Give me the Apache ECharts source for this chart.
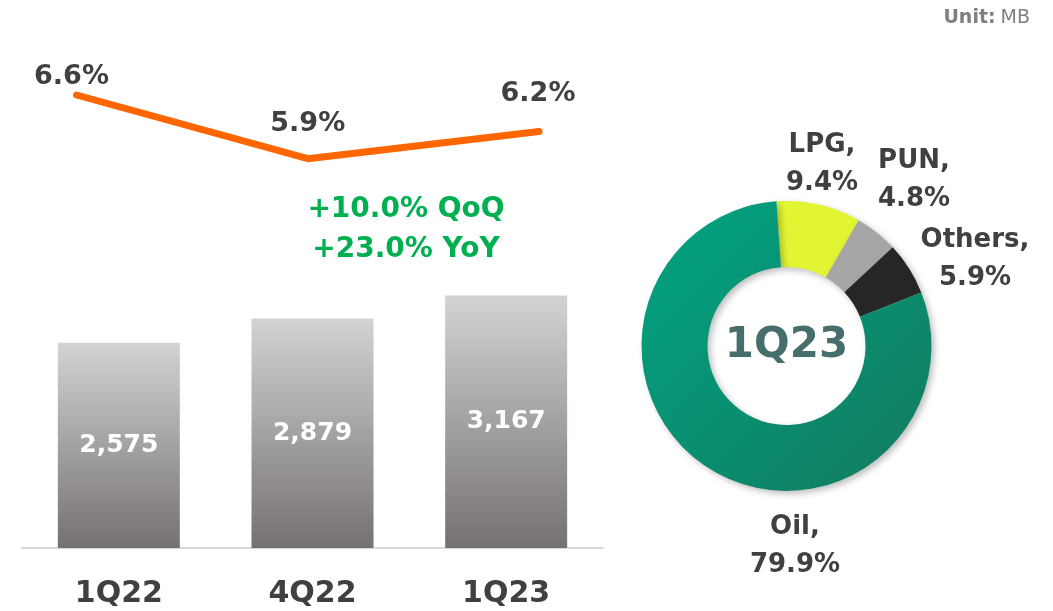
<!DOCTYPE html>
<html>
<head>
<meta charset="utf-8">
<script src="https://cdn.jsdelivr.net/npm/echarts@6/dist/echarts.min.js"></script>
<style>
  html, body { margin: 0; padding: 0; background: #fff; }
  #chart { width: 1053px; height: 611px; }
</style>
</head>
<body>
<div id="chart"></div>
<script>
// 季度
var quarters = ['1Q22', '4Q22', '1Q23'];
// 柱子数值 (MB)
var volumes = [2575, 2879, 3167];
// 折线 %
var shares = [6.6, 5.9, 6.2];
// 环形图
var mixNames = ['LPG', 'PUN', 'Others', 'Oil'];
var mixValues = [9.4, 4.8, 5.9, 79.9];
var growthText = ['+10.0% QoQ', '+23.0% YoY'];

var FONT = '"DejaVu Sans", sans-serif';
var DARK = '#404040';

// 折线标签偏移
var lineLabelOffsets = [[-5, -4], [0, -21], [-1, -23]];
// 环形图标签位置
var pieLabelPos = [[822, 164], [914, 180], [975, 259], [795, 546]];
var pieColors = [
  '#e1f532',
  '#a6a6a6',
  '#262626',
  new echarts.graphic.LinearGradient(0, 0, 1, 1, [
    { offset: 0, color: '#00a483' },
    { offset: 1, color: '#137a5e' },
  ]),
];

var chart = echarts.init(document.getElementById('chart'));

var option = {
  backgroundColor: '#fff',
  animation: false,
  title: {
    right: 18,
    top: 4,
    text: '{b|Unit:} {n|MB}',
    textStyle: {
      fontWeight: 'normal',
      rich: {
        b: { fontFamily: FONT, fontWeight: 'bold', fontSize: 19, color: '#7f7f7f' },
        n: { fontFamily: FONT, fontWeight: 'normal', fontSize: 19, color: '#7f7f7f' },
      },
    },
  },
  grid: [
    { left: 22, right: 450, top: 229, height: 319 },
    { left: 76.5, right: 514, top: 58.6, height: 182 },
  ],
  xAxis: [
    {
      type: 'category',
      gridIndex: 0,
      data: quarters,
      axisTick: { show: false },
      axisLine: { lineStyle: { color: '#d9d9d9', width: 2 } },
      axisLabel: {
        margin: 31,
        fontFamily: FONT,
        fontWeight: 'bold',
        fontSize: 30,
        color: DARK,
      },
    },
    {
      type: 'category',
      gridIndex: 1,
      data: quarters,
      boundaryGap: false,
      show: false,
    },
  ],
  yAxis: [
    { type: 'value', gridIndex: 0, min: 0, max: 4000, interval: 1000, show: false },
    { type: 'value', gridIndex: 1, min: 5, max: 7, interval: 1, show: false },
  ],
  series: [
    {
      type: 'bar',
      xAxisIndex: 0,
      yAxisIndex: 0,
      barWidth: 122,
      data: volumes,
      itemStyle: {
        color: new echarts.graphic.LinearGradient(0, 0, 0, 1, [
          { offset: 0, color: '#d3d3d3' },
          { offset: 1, color: '#757170' },
        ]),
      },
      label: {
        show: true,
        position: 'inside',
        color: '#fff',
        fontFamily: FONT,
        fontWeight: 'bold',
        fontSize: 25,
        formatter: function (p) {
          return p.value.toLocaleString('en-US');
        },
      },
    },
    {
      type: 'line',
      xAxisIndex: 1,
      yAxisIndex: 1,
      symbol: 'circle',
      symbolSize: 1,
      data: shares.map(function (v, i) {
        return { value: v, label: { offset: lineLabelOffsets[i] } };
      }),
      lineStyle: { color: '#ff6600', width: 7, cap: 'round', join: 'round' },
      itemStyle: { color: '#ff6600' },
      label: {
        show: true,
        position: 'top',
        distance: 0,
        fontFamily: FONT,
        fontWeight: 'bold',
        fontSize: 27,
        color: DARK,
        formatter: '{c}%',
      },
    },
    {
      type: 'pie',
      center: [786.5, 346],
      radius: [79, 145],
      startAngle: 94,
      clockwise: true,
      data: mixNames.map(function (n, i) {
        return { name: n, value: mixValues[i], itemStyle: { color: pieColors[i] } };
      }),
      itemStyle: {
        shadowColor: 'rgba(0,0,0,0.25)',
        shadowBlur: 6,
        shadowOffsetX: 3,
        shadowOffsetY: 3,
      },
      label: {
        show: true,
        position: 'outside',
        formatter: '{b},\n{c}%',
        fontFamily: FONT,
        fontWeight: 'bold',
        fontSize: 26,
        lineHeight: 38,
        color: DARK,
        align: 'center',
        overflow: 'none',
        width: 200,
      },
      labelLine: { show: false },
      labelLayout: function (params) {
        var pos = pieLabelPos[params.dataIndex];
        return { x: pos[0], y: pos[1], align: 'center', verticalAlign: 'middle' };
      },
      emphasis: { disabled: true },
    },
  ],
  graphic: [
    {
      type: 'text',
      x: 786.5,
      y: 346,
      style: {
        text: '1Q23',
        fill: '#466e6c',
        font: 'bold 42px ' + FONT,
        align: 'center',
        verticalAlign: 'middle',
      },
    },
    {
      type: 'text',
      x: 406,
      y: 230,
      style: {
        text: growthText.join('\n'),
        fill: '#00b050',
        font: 'bold 28px ' + FONT,
        lineHeight: 40,
        align: 'center',
        verticalAlign: 'middle',
      },
    },
  ],
};

chart.setOption(option);
</script>
</body>
</html>
